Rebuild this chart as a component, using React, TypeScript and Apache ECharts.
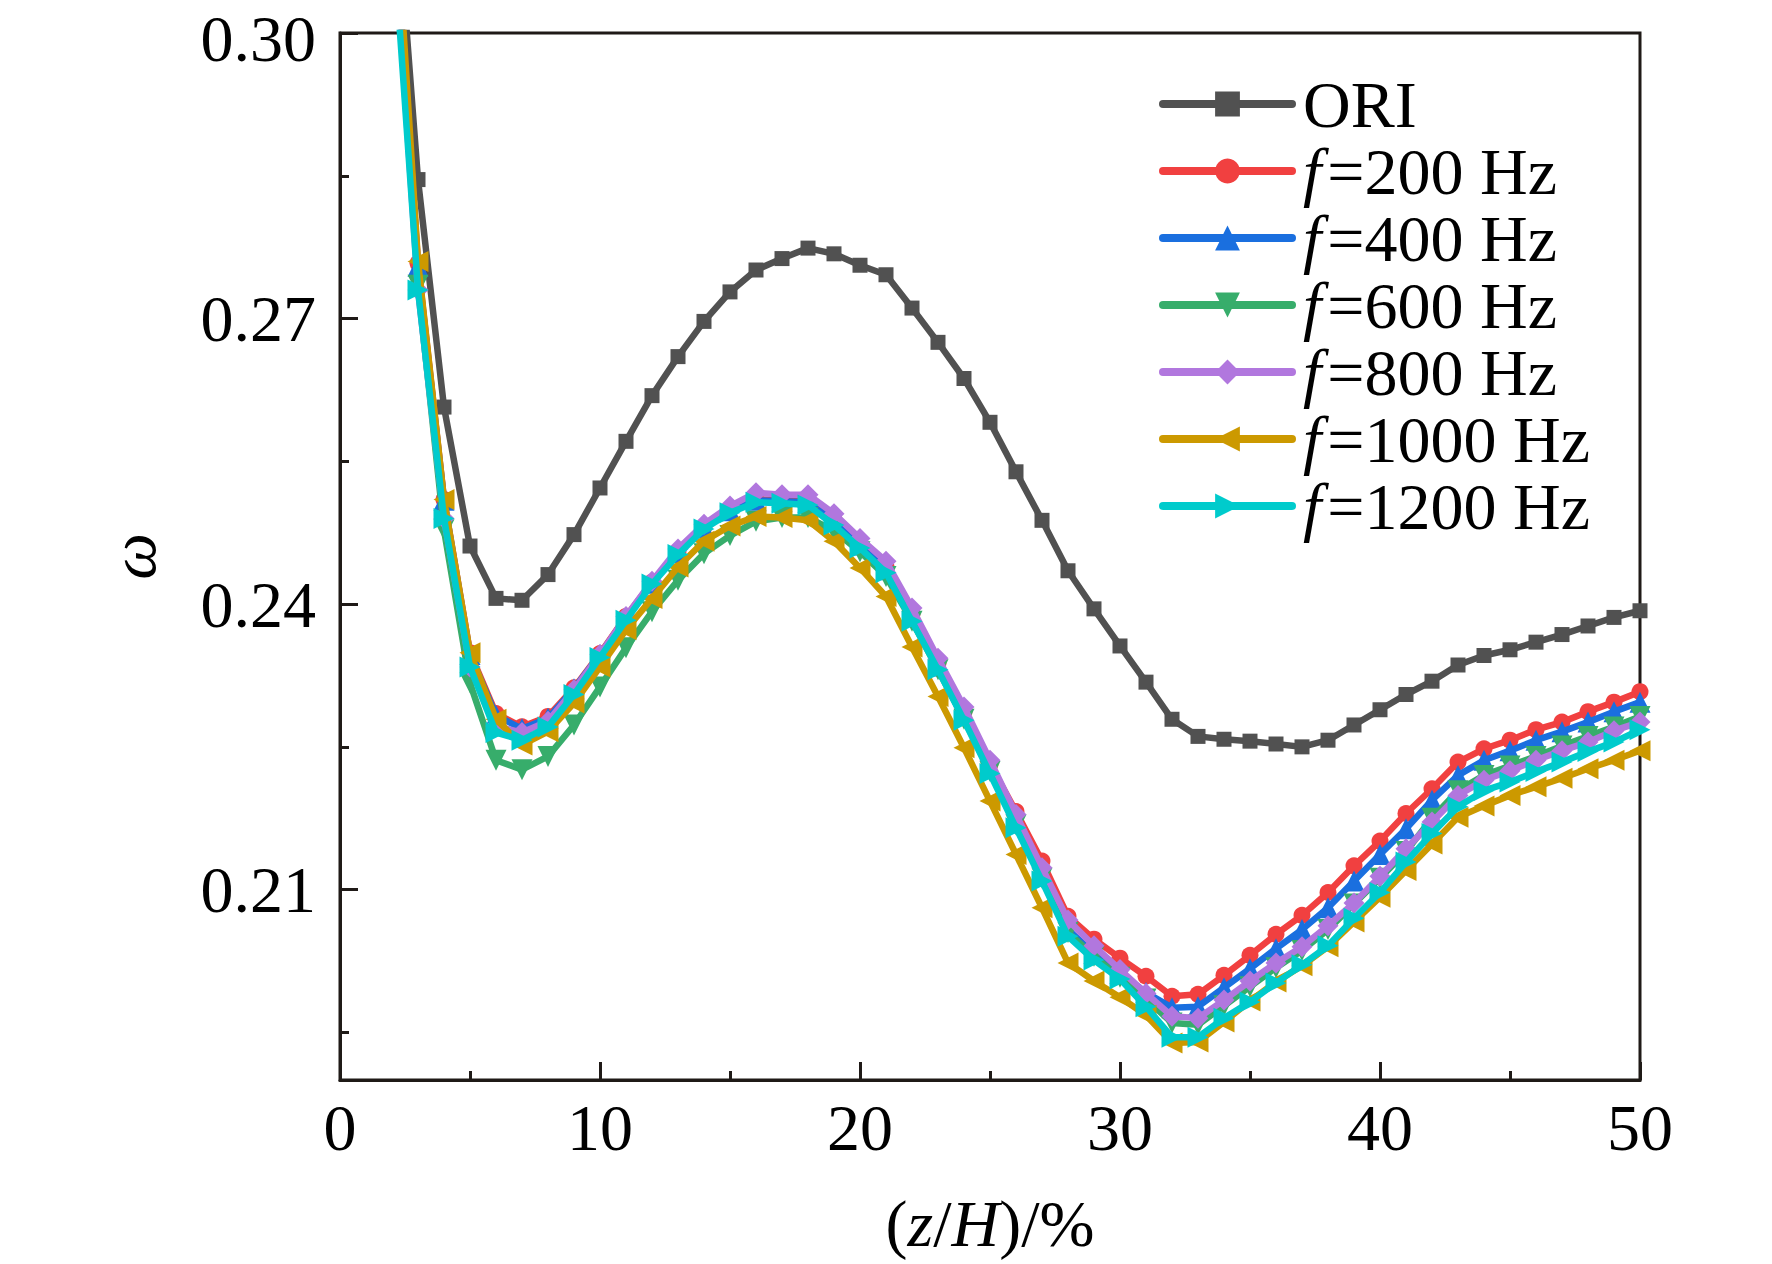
import React, { useEffect, useRef } from "react";
import * as echarts from "echarts";

const xValues = [2,3,4,5,6,7,8,9,10,11,12,13,14,15,16,17,18,19,20,21,22,23,24,25,26,27,28,29,30,31,32,33,34,35,36,37,38,39,40,41,42,43,44,45,46,47,48,49,50];

const oriValues = [0.3204,0.2846,0.2607,0.2461,0.2406,0.2404,0.2431,0.2473,0.2522,0.2571,0.2619,0.2660,0.2697,0.2728,0.2751,0.2763,0.2774,0.2768,0.2756,0.2746,0.2711,0.2675,0.2637,0.2591,0.2539,0.2488,0.2435,0.2395,0.2356,0.2318,0.2279,0.2261,0.2258,0.2256,0.2253,0.2250,0.2257,0.2273,0.2289,0.2305,0.2319,0.2336,0.2346,0.2352,0.2360,0.2368,0.2377,0.2386,0.2393];

const f200Values = [0.316,0.2758,0.2510,0.2349,0.2285,0.2271,0.2282,0.2312,0.2348,0.2387,0.2423,0.2455,0.2481,0.2499,0.2510,0.2509,0.2508,0.2489,0.2464,0.2439,0.2390,0.2338,0.2287,0.2232,0.2182,0.2130,0.2072,0.2048,0.2028,0.2009,0.1988,0.1990,0.2010,0.2031,0.2053,0.2073,0.2097,0.2125,0.2151,0.2180,0.2206,0.2234,0.2248,0.2257,0.2268,0.2276,0.2287,0.2297,0.2308];

const f400Values = [0.316,0.2755,0.2509,0.2347,0.2283,0.2269,0.2280,0.2311,0.2347,0.2386,0.2422,0.2454,0.2480,0.2498,0.2509,0.2508,0.2507,0.2487,0.2462,0.2436,0.2387,0.2335,0.2283,0.2227,0.2170,0.2114,0.2058,0.2033,0.2012,0.1992,0.1976,0.1977,0.1997,0.2017,0.2038,0.2058,0.2081,0.2109,0.2137,0.2164,0.2194,0.2220,0.2236,0.2246,0.2257,0.2266,0.2276,0.2287,0.2297];

const f600Values = [0.315,0.2735,0.2478,0.2317,0.2236,0.2226,0.2240,0.2273,0.2313,0.2354,0.2392,0.2425,0.2453,0.2472,0.2487,0.2491,0.2491,0.2477,0.2455,0.2429,0.2382,0.2331,0.2279,0.2224,0.2168,0.2112,0.2055,0.2030,0.2008,0.1985,0.1960,0.1958,0.1978,0.1998,0.2018,0.2036,0.2058,0.2085,0.2112,0.2140,0.2175,0.2204,0.2220,0.2230,0.2240,0.2251,0.2261,0.2271,0.2282];

const f800Values = [0.314,0.2730,0.2490,0.2334,0.2272,0.2265,0.2277,0.2310,0.2347,0.2387,0.2424,0.2458,0.2484,0.2503,0.2517,0.2515,0.2515,0.2495,0.2469,0.2445,0.2396,0.2343,0.2292,0.2236,0.2179,0.2123,0.2068,0.2041,0.2016,0.1991,0.1967,0.1965,0.1984,0.2004,0.2023,0.2040,0.2062,0.2086,0.2114,0.2143,0.2171,0.2199,0.2215,0.2225,0.2236,0.2246,0.2255,0.2267,0.2276];

const f1000Values = [0.3196,0.2760,0.2510,0.2349,0.2279,0.2252,0.2266,0.2296,0.2334,0.2373,0.2406,0.2439,0.2466,0.2482,0.2492,0.2491,0.2488,0.2466,0.2438,0.2408,0.2355,0.2303,0.2249,0.2193,0.2137,0.2081,0.2023,0.2004,0.1987,0.1968,0.1939,0.1940,0.1961,0.1983,0.2003,0.2020,0.2040,0.2066,0.2092,0.2120,0.2148,0.2176,0.2188,0.2199,0.2208,0.2217,0.2227,0.2236,0.2246];

const f1200Values = [0.312,0.2730,0.2490,0.2334,0.2265,0.2257,0.2271,0.2305,0.2344,0.2383,0.2421,0.2452,0.2479,0.2496,0.2507,0.2506,0.2504,0.2483,0.2459,0.2433,0.2382,0.2331,0.2278,0.2222,0.2165,0.2109,0.2051,0.2026,0.2006,0.1977,0.1945,0.1945,0.1965,0.1982,0.2002,0.2021,0.2041,0.2070,0.2097,0.2129,0.2159,0.2187,0.2204,0.2213,0.2224,0.2234,0.2245,0.2255,0.2268];

const seriesNames = ["ORI", "f=200 Hz", "f=400 Hz", "f=600 Hz", "f=800 Hz", "f=1000 Hz", "f=1200 Hz"];
const seriesColors = ["#515151", "#F14040", "#1A6FDF", "#37AD6B", "#B177DE", "#CC9900", "#00CBCC"];
const seriesSymbols = ["rect", "circle", "triangle", "triangle", "diamond", "triangle", "triangle"];
const seriesRotations = [0, 0, 0, 180, 0, 90, -90];
const seriesSymbolSizes = [15, 17, 21, 21, 21, 21, 21];

const yMajorTicks = [0.21, 0.24, 0.27, 0.30];
const yMinorTicks = [0.195, 0.225, 0.255, 0.285];

const FONT = "'Liberation Serif', 'Times New Roman', serif";
const AXIS_COLOR = "#1f1a17";

export default function App() {
  const ref = useRef<HTMLDivElement>(null);

  useEffect(() => {
    if (!ref.current) return;
    const chart = echarts.init(ref.current, undefined, { renderer: "svg" });
    const allValues = [oriValues, f200Values, f400Values, f600Values, f800Values, f1000Values, f1200Values];

    const series = allValues.map((vals, i) => ({
      name: seriesNames[i],
      type: "line",
      xAxisIndex: 0,
      yAxisIndex: 0,
      data: xValues.map((x, j) => [x, vals[j]]),
      symbol: seriesSymbols[i],
      symbolRotate: seriesRotations[i],
      symbolSize: seriesSymbolSizes[i],
      clip: true,
      color: seriesColors[i],
      itemStyle: { color: seriesColors[i] },
      lineStyle: { color: seriesColors[i], width: 6.5, join: "round", cap: "round" },
      z: 2 + i,
    }));

    chart.setOption({
      animation: false,
      backgroundColor: "#ffffff",
      grid: {
        left: 340,
        top: 33,
        width: 1300,
        height: 1047,
        show: true,
        borderColor: AXIS_COLOR,
        borderWidth: 3,
        backgroundColor: "transparent",
        containLabel: false,
        outerBoundsMode: "none",
      },
      legend: {
        orient: "vertical",
        left: 1159,
        top: 71,
        padding: 0,
        itemWidth: 129,
        itemHeight: 31,
        itemGap: 1,
        data: seriesNames,
        lineStyle: { width: 8, cap: "round" },
        formatter: (name: string) => (name === "ORI" ? "ORI" : `{i|f}=${name.slice(2)}`),
        textStyle: {
          fontFamily: FONT,
          fontSize: 66,
          lineHeight: 66,
          color: "#000",
          padding: [0, 0, 0, 6],
          rich: {
            i: { fontFamily: FONT, fontSize: 66, lineHeight: 66, fontStyle: "italic", color: "#000", padding: [0, 6, 0, 0] },
          },
        },
      },
      xAxis: {
        type: "value",
        min: 0,
        max: 50,
        interval: 10,
        name: "({i|z}/{i|H})/%",
        nameLocation: "middle",
        nameGap: 110,
        nameTextStyle: {
          fontFamily: FONT,
          fontSize: 66,
          color: "#000",
          rich: {
            i: { fontFamily: FONT, fontSize: 66, fontStyle: "italic", color: "#000" },
          },
        },
        axisLine: { show: true, lineStyle: { color: AXIS_COLOR, width: 3 } },
        axisTick: { show: true, inside: true, length: 18, lineStyle: { color: AXIS_COLOR, width: 3 } },
        minorTick: { show: true, splitNumber: 2, length: 9, lineStyle: { color: AXIS_COLOR, width: 3 } },
        axisLabel: { fontFamily: FONT, fontSize: 66, color: "#000", margin: 14 },
        splitLine: { show: false },
      },
      yAxis: [
        {
          type: "value",
          min: 0.19,
          max: 0.30,
          name: "ω",
          nameLocation: "middle",
          nameGap: 175,
          nameTextStyle: { fontFamily: FONT, fontSize: 66, fontStyle: "italic", color: "#000" },
          axisLine: { show: true, lineStyle: { color: AXIS_COLOR, width: 3 } },
          axisTick: { show: true, inside: true, length: 18, customValues: yMajorTicks, lineStyle: { color: AXIS_COLOR, width: 3 } },
          axisLabel: {
            fontFamily: FONT,
            fontSize: 66,
            lineHeight: 44,
            color: "#000",
            margin: 24,
            customValues: yMajorTicks,
            formatter: (v: number) => (Math.abs(v - 0.3) < 1e-9 ? `{t|${v.toFixed(2)}}` : v.toFixed(2)),
            rich: {
              t: { fontFamily: FONT, fontSize: 66, lineHeight: 44, color: "#000", padding: [10, 0, 0, 0] },
            },
          },
          splitLine: { show: false },
        },
        {
          type: "value",
          min: 0.19,
          max: 0.30,
          position: "left",
          axisLine: { show: false },
          axisTick: { show: true, inside: true, length: 9, customValues: yMinorTicks, lineStyle: { color: AXIS_COLOR, width: 3 } },
          axisLabel: { show: false, customValues: yMinorTicks },
          splitLine: { show: false },
        },
      ],
      series,
    });

    return () => {
      chart.dispose();
    };
  }, []);

  return (
    <div
      ref={ref}
      style={{ position: "fixed", left: 0, top: 0, width: 1772, height: 1264, background: "#fff" }}
    />
  );
}
